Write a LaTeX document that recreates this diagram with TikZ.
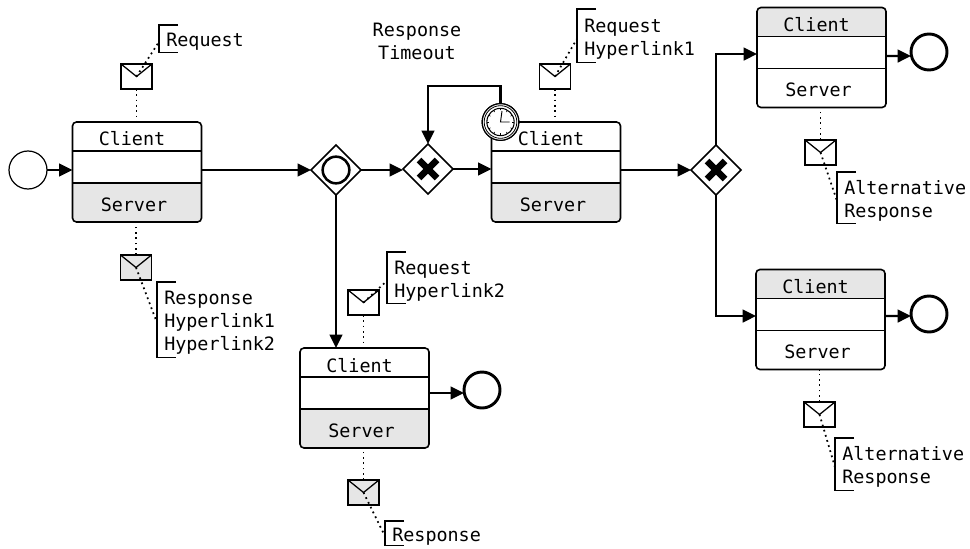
\documentclass[tikz,border=0pt]{standalone}
\usepackage{fontspec}
\setmonofont{DejaVu Sans Mono}
\usetikzlibrary{arrows.meta,shapes.geometric}
\definecolor{bandgray}{HTML}{E6E6E6}
\tikzset{
  label/.style={font=\ttfamily\fontsize{13.8}{17.25}\selectfont, inner sep=0pt},
  tasknode/.style={rectangle, minimum width=96.75pt, minimum height=75pt, inner sep=0pt, outer sep=0pt},
  flow/.style={line width=1.7pt, -{Triangle[length=10pt,width=9.5pt]}},
  assoc/.style={line width=1.3pt, dash pattern=on 1.3pt off 2.7pt},
  envelope/.style={draw, line width=0.95pt, rectangle, minimum width=23.25pt, minimum height=18.75pt, inner sep=0pt, outer sep=0pt},
  gateway/.style={draw, fill=white, line width=1.1pt, diamond, aspect=1, minimum size=37.5pt, inner sep=0pt, outer sep=0pt},
  startevent/.style={draw, fill=white, line width=0.9pt, circle, minimum size=28.5pt, inner sep=0pt, outer sep=0pt},
  endevent/.style={draw, fill=white, line width=2.2pt, circle, minimum size=27pt, inner sep=0pt, outer sep=0pt},
}
\begin{document}
\begin{tikzpicture}[x=0.75pt, y=-0.75pt]
\useasboundingbox (0,0) rectangle (970,549);
%%%%% Tasks %%%%%
\foreach \name/\cx/\cy/\ctop/\cbot in {task1/137/172/white/bandgray, task2/556/172/white/bandgray, task3/821.5/57.5/bandgray/white, task4/820.5/319.5/bandgray/white, task5/364.5/398/white/bandgray}{
\node[tasknode] (\name) at (\cx,\cy) {};
\begin{scope}
\clip[rounded corners=3pt] (\name.south west) rectangle (\name.north east);
\fill[\ctop] (\name.north west) rectangle ([shift={(0,-21)}]\name.east);
\fill[\cbot] (\name.south west) rectangle ([shift={(0,11)}]\name.east);
\end{scope}
\draw[line width=1.2pt, rounded corners=3pt] (\name.south west) rectangle (\name.north east);
\draw[line width=1.2pt] ([shift={(0,-21)}]\name.west) -- ([shift={(0,-21)}]\name.east);
\draw[line width=1.2pt] ([shift={(0,11)}]\name.west) -- ([shift={(0,11)}]\name.east);
\node[label, anchor=base] (\name-client) at ([shift={(-5,-26)}]\name.center) {Client};
\node[label, anchor=base] (\name-server) at ([shift={(-3,39)}]\name.center) {Server};
}
%%%%% Events and gateways %%%%%
\node[startevent] (start) at (28,170) {};
\node[endevent] (end1) at (929,52) {};
\node[endevent] (end2) at (929,314) {};
\node[endevent] (end3) at (482,390) {};
\node[gateway] (gw1) at (336,170) {};
\node[gateway] (gw2) at (428,169) {};
\node[gateway] (gw3) at (716,170) {};
\node[draw, line width=1.9pt, circle, minimum size=20pt, inner sep=0pt] (gw1-ring) at (gw1.center) {};
\foreach \name in {gw2,gw3}{
\draw[line width=5pt] ([shift={(-9,-9)}]\name.center) -- ([shift={(9,9)}]\name.center);
\draw[line width=5pt] ([shift={(-9,9)}]\name.center) -- ([shift={(9,-9)}]\name.center);
}
%%%%% Messages %%%%%
\foreach \name/\cx/\cy/\cfill in {env1/136.5/76.5/white, env2/136/267.5/bandgray, env3/555/76.5/white, env4/363.5/302.5/white, env5/363.5/492.5/bandgray, env6/820.5/152.5/white, env7/819.5/414.5/white}{
\node[envelope, fill=\cfill] (\name) at (\cx,\cy) {};
\draw[line width=0.95pt] (\name.north west) -- (\name.center) -- (\name.north east);
}
%%%%% Annotations %%%%%
\foreach \name/\cx/\cy/\h/\txt in {note1/159/28/27/{Request}, note2/157/285/75/{Response\\Hyperlink1\\Hyperlink2}, note3/577/12/53/{Request\\Hyperlink1}, note4/387/255/51/{Request\\Hyperlink2}, note5/385/524/24/{Response}, note6/837/175/51/{Alternative\\Response}, note7/835/441/52/{Alternative\\Response}}{
\node[label, anchor=north west, inner xsep=5.25pt, align=left, minimum height=\h*0.75pt] (\name) at (\cx,\cy) {\txt};
\draw[line width=0.95pt] ([shift={(19,-3)}]\name.north west) -- ([shift={(0,-3)}]\name.north west) -- ([shift={(0,-3)}]\name.south west) -- ([shift={(19,-3)}]\name.south west);
}
\node[label, align=center] (timeoutlabel) at (417,41) {Response\\Timeout};
%%%%% Associations %%%%%
\draw[assoc] (env1.south) -- (env1.south |- task1.north);
\draw[assoc] (env1.center) -- (note1.west);
\draw[assoc] (env2.north) -- (env2.north |- task1.south);
\draw[assoc] (env2.center) -- (note2.west);
\draw[assoc] (env3.south) -- (env3.south |- task2.north);
\draw[assoc] (env3.center) -- (note3.west);
\draw[assoc] (env4.south) -- (env4.south |- task5.north);
\draw[assoc] (env4.center) -- (note4.west);
\draw[assoc] (env5.north) -- (env5.north |- task5.south);
\draw[assoc] (env5.center) -- (note5.west);
\draw[assoc] (env6.north) -- (env6.north |- task3.south);
\draw[assoc] (env6.center) -- (note6.west);
\draw[assoc] (env7.north) -- (env7.north |- task4.south);
\draw[assoc] (env7.center) -- (note7.west);
%%%%% Flows %%%%%
\coordinate (timeoutturn) at (428,86);
\node[draw, fill=white, line width=0.9pt, circle, minimum size=27.5pt, inner sep=0pt, outer sep=0pt] (timer) at (500.5,122) {};
\draw[flow] (start.east) -- (start.east -| task1.west);
\draw[flow] (task1.east |- gw1.west) -- (gw1.west);
\draw[flow] (gw1.east) -- (gw1.east -| gw2.west);
\draw[flow] (gw2.east) -- (gw2.east -| task2.west);
\draw[flow] (gw1.south) -- (gw1.south |- task5.north);
\draw[flow] (timer.north) |- (timeoutturn) -- (gw2.north);
\draw[flow] (task2.east |- gw3.west) -- (gw3.west);
\draw[flow] (gw3.north) |- ([yshift=2.6pt]task3.west);
\draw[flow] (gw3.south) |- ([yshift=2.6pt]task4.west);
\draw[flow] ([yshift=1.1pt]task3.east) -- ([yshift=-3pt]end1.west);
\draw[flow] ([yshift=2.6pt]task4.east) -- ([yshift=-1.5pt]end2.west);
\draw[flow] ([yshift=3.75pt]task5.east) -- ([yshift=-2.25pt]end3.west);
%%%%% Timer %%%%%
\node[draw, fill=white, line width=0.9pt, circle, minimum size=27.5pt, inner sep=0pt, outer sep=0pt] (timer-outer) at (timer.center) {};
\node[draw, line width=0.6pt, circle, minimum size=24.5pt, inner sep=0pt] (timer-ring) at (timer.center) {};
\node[draw, line width=0.8pt, circle, minimum size=20.5pt, inner sep=0pt] (timer-clock) at (timer.center) {};
\foreach \a in {0,30,...,330}{
\draw[line width=0.4pt] ([shift={(\a:11.5)}]timer.center) -- ([shift={(\a:13.5)}]timer.center);
}
\draw[line width=0.7pt] ([shift={(1.5,-11)}]timer.center) -- (timer.center) -- ([shift={(9,0)}]timer.center);
\end{tikzpicture}
\end{document}
